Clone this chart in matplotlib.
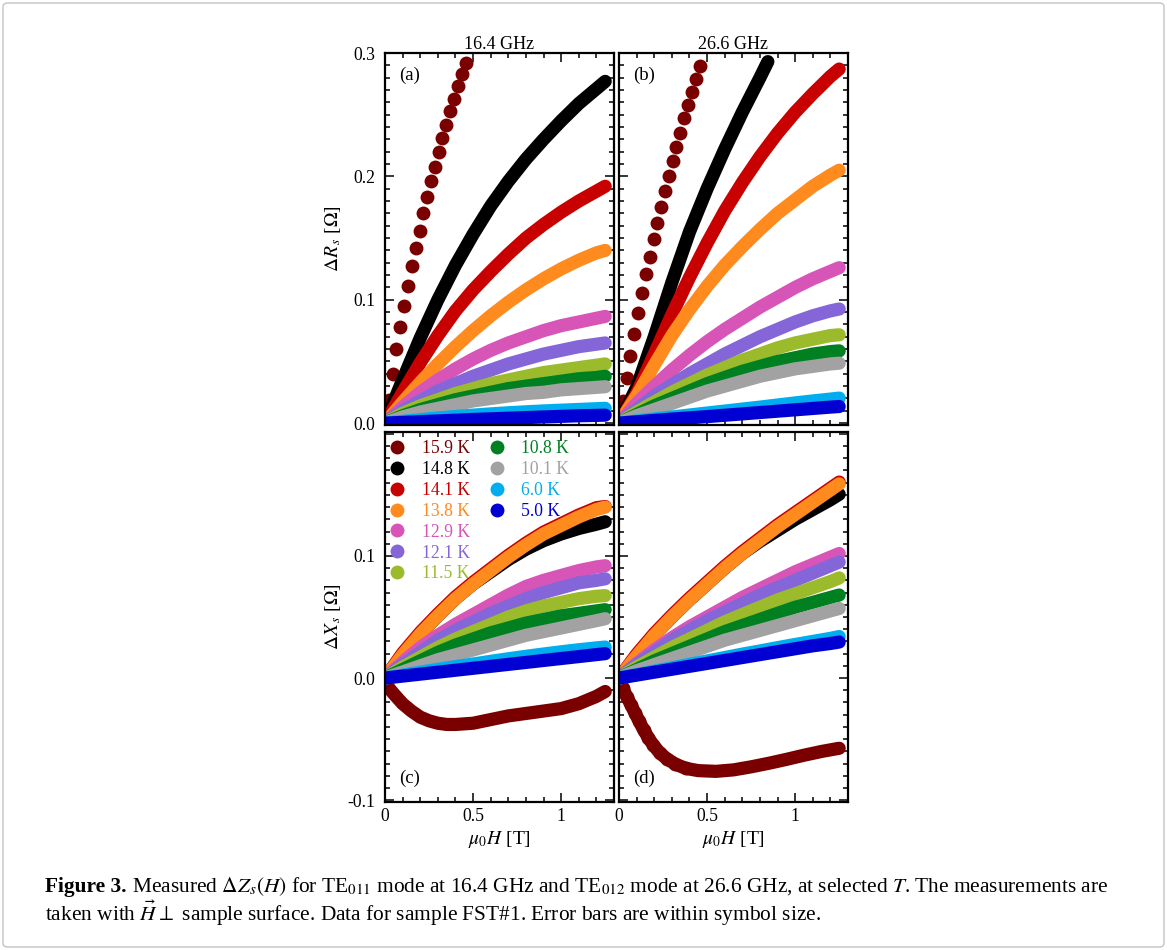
import matplotlib
matplotlib.use("Agg")
import matplotlib.pyplot as plt
from matplotlib.lines import Line2D
from matplotlib.patches import FancyBboxPatch
from matplotlib.ticker import MultipleLocator, FixedLocator

plt.rcParams["font.family"] = ["Liberation Serif", "DejaVu Serif"]
plt.rcParams["mathtext.fontset"] = "stix"

# ---- data ----
temps = ["15.9 K", "14.8 K", "14.1 K", "13.8 K", "12.9 K", "12.1 K",
         "11.5 K", "10.8 K", "10.1 K", "6.0 K", "5.0 K"]
colors = ["#7a0000", "#000000", "#c80000", "#ff8a1e", "#d855b8", "#8466d8",
          "#9cbb2c", "#008020", "#a2a2a2", "#00aeef", "#0000d2"]

field = [0.0, 0.1, 0.2, 0.3, 0.4, 0.5, 0.6, 0.7, 0.8, 0.9, 1.0, 1.1, 1.2, 1.25]

# 15.9 K, dR at low field (discrete points)
field_dots = [0.022, 0.043, 0.065, 0.087, 0.109, 0.130, 0.152, 0.174, 0.196, 0.217, 0.239,
              0.261, 0.283, 0.304, 0.326, 0.348, 0.370, 0.391, 0.413, 0.435, 0.457]
dR_159_a = [0.019, 0.040, 0.060, 0.078, 0.095, 0.111, 0.127, 0.142, 0.156, 0.170, 0.183,
            0.196, 0.208, 0.220, 0.231, 0.242, 0.253, 0.263, 0.273, 0.283, 0.292]
dR_159_b = [0.0176, 0.0365, 0.0546, 0.0725, 0.0895, 0.1055, 0.1205, 0.135, 0.149, 0.1625, 0.1755,
            0.188, 0.2005, 0.2125, 0.224, 0.2355, 0.247, 0.258, 0.2685, 0.279, 0.2895]

# 14.8 K at 26.6 GHz leaves the window early
field_148_b = [0.0, 0.1, 0.2, 0.3, 0.4, 0.5, 0.6, 0.7, 0.8, 0.845]
dR_148_b = [0.0, 0.029, 0.070, 0.114, 0.155, 0.190, 0.222, 0.252, 0.280, 0.293]

# 15.9 K, dX
field_159_c = [0.01, 0.05, 0.1, 0.15, 0.2, 0.25, 0.3, 0.35, 0.4, 0.5, 0.6, 0.7,
               0.8, 0.9, 1.0, 1.1, 1.2, 1.25]
dX_159_c = [-0.006, -0.013, -0.021, -0.027, -0.032, -0.035, -0.037, -0.038, -0.038, -0.037,
            -0.034, -0.031, -0.029, -0.027, -0.025, -0.021, -0.015, -0.011]
field_159_d = [0.02, 0.045, 0.068, 0.092, 0.115, 0.14, 0.167, 0.195, 0.23, 0.27, 0.32,
               0.38, 0.45, 0.55, 0.65, 0.75, 0.85, 0.95, 1.05, 1.15, 1.25]
dX_159_d = [-0.008, -0.0155, -0.022, -0.029, -0.0355, -0.0425, -0.049, -0.055, -0.061, -0.066,
            -0.0705, -0.074, -0.0758, -0.0764, -0.0752, -0.0727, -0.0698, -0.0666, -0.0632,
            -0.0601, -0.0575]

# 14.8 K ... 5.0 K on the common field grid
dR_a = [
    [0, 0.035, 0.069, 0.100, 0.128, 0.153, 0.176, 0.196, 0.214, 0.230, 0.245, 0.259, 0.271, 0.277],
    [0, 0.025, 0.049, 0.071, 0.091, 0.108, 0.123, 0.137, 0.150, 0.161, 0.171, 0.180, 0.188, 0.192],
    [0, 0.017, 0.033, 0.048, 0.062, 0.075, 0.087, 0.098, 0.108, 0.117, 0.125, 0.132, 0.138, 0.140],
    [0, 0.013, 0.025, 0.035, 0.044, 0.052, 0.059, 0.065, 0.070, 0.075, 0.079, 0.082, 0.085, 0.0865],
    [0, 0.010, 0.018, 0.026, 0.032, 0.038, 0.043, 0.048, 0.052, 0.056, 0.059, 0.062, 0.064, 0.065],
    [0, 0.008, 0.014, 0.019, 0.024, 0.028, 0.032, 0.035, 0.038, 0.041, 0.043, 0.045, 0.047, 0.048],
    [0, 0.006, 0.011, 0.015, 0.019, 0.022, 0.025, 0.028, 0.030, 0.032, 0.034, 0.036, 0.037, 0.038],
    [0, 0.005, 0.009, 0.012, 0.015, 0.018, 0.020, 0.022, 0.024, 0.025, 0.027, 0.028, 0.029, 0.0295],
    [0, 0.0014, 0.0028, 0.0042, 0.0054, 0.0065, 0.0075, 0.0084, 0.0092, 0.0099, 0.0105, 0.0111, 0.0117, 0.012],
    [0, 0.0006, 0.0012, 0.0018, 0.0024, 0.003, 0.0035, 0.004, 0.0045, 0.005, 0.0055, 0.006, 0.0063, 0.0065],
]
dR_b = [
    None,
    [0, 0.024, 0.056, 0.088, 0.118, 0.146, 0.172, 0.195, 0.216, 0.235, 0.252, 0.267, 0.281, 0.287],
    [0, 0.022, 0.047, 0.071, 0.092, 0.111, 0.128, 0.143, 0.157, 0.170, 0.181, 0.192, 0.201, 0.205],
    [0, 0.016, 0.030, 0.043, 0.055, 0.066, 0.076, 0.085, 0.094, 0.102, 0.110, 0.117, 0.123, 0.126],
    [0, 0.011, 0.022, 0.031, 0.040, 0.048, 0.056, 0.063, 0.070, 0.076, 0.082, 0.087, 0.091, 0.0925],
    [0, 0.009, 0.017, 0.025, 0.032, 0.039, 0.045, 0.051, 0.056, 0.061, 0.065, 0.068, 0.071, 0.0716],
    [0, 0.007, 0.014, 0.020, 0.026, 0.032, 0.037, 0.042, 0.046, 0.050, 0.053, 0.056, 0.058, 0.0586],
    [0, 0.006, 0.011, 0.016, 0.021, 0.026, 0.030, 0.034, 0.038, 0.041, 0.044, 0.046, 0.048, 0.0486],
    [0, 0.0017, 0.0034, 0.005, 0.0066, 0.0082, 0.0098, 0.0114, 0.013, 0.0147, 0.0164, 0.018, 0.0195, 0.0203],
    [0, 0.0011, 0.0022, 0.0033, 0.0043, 0.0053, 0.0064, 0.0075, 0.0086, 0.0097, 0.0108, 0.0119, 0.013, 0.0135],
]
dX_c = [
    [0, 0.019, 0.036, 0.051, 0.065, 0.077, 0.087, 0.097, 0.1055, 0.1125, 0.118, 0.1225, 0.126, 0.128],
    [0, 0.0205, 0.0375, 0.0525, 0.0665, 0.0785, 0.0895, 0.1005, 0.1105, 0.1195, 0.1265, 0.1335, 0.1395, 0.1405],
    [0, 0.019, 0.036, 0.051, 0.065, 0.077, 0.088, 0.099, 0.109, 0.118, 0.125, 0.132, 0.138, 0.140],
    [0, 0.013, 0.025, 0.035, 0.044, 0.052, 0.060, 0.068, 0.075, 0.080, 0.084, 0.088, 0.091, 0.092],
    [0, 0.011, 0.021, 0.031, 0.039, 0.046, 0.053, 0.059, 0.065, 0.070, 0.074, 0.078, 0.080, 0.0813],
    [0, 0.009, 0.017, 0.025, 0.032, 0.038, 0.044, 0.050, 0.055, 0.059, 0.062, 0.065, 0.067, 0.0675],
    [0, 0.007, 0.014, 0.021, 0.027, 0.032, 0.037, 0.041, 0.045, 0.048, 0.051, 0.053, 0.055, 0.056],
    [0, 0.005, 0.010, 0.015, 0.019, 0.023, 0.027, 0.031, 0.035, 0.038, 0.041, 0.044, 0.047, 0.0486],
    [0, 0.0024, 0.0048, 0.0071, 0.0094, 0.0115, 0.0137, 0.0158, 0.0178, 0.0197, 0.0215, 0.0232, 0.0247, 0.0254],
    [0, 0.0016, 0.0032, 0.0048, 0.0064, 0.008, 0.0096, 0.0112, 0.0128, 0.0144, 0.016, 0.0176, 0.0192, 0.020],
]
dX_d = [
    [0, 0.018, 0.035, 0.050, 0.064, 0.077, 0.090, 0.102, 0.112, 0.121, 0.130, 0.138, 0.146, 0.1505],
    [0, 0.0195, 0.0365, 0.0515, 0.0655, 0.0785, 0.0915, 0.1035, 0.1145, 0.1255, 0.1355, 0.1455, 0.1555, 0.1605],
    [0, 0.018, 0.035, 0.050, 0.064, 0.077, 0.090, 0.102, 0.113, 0.124, 0.134, 0.144, 0.154, 0.159],
    [0, 0.012, 0.023, 0.033, 0.042, 0.050, 0.058, 0.066, 0.073, 0.080, 0.087, 0.093, 0.099, 0.102],
    [0, 0.011, 0.021, 0.031, 0.039, 0.047, 0.054, 0.061, 0.068, 0.074, 0.080, 0.086, 0.092, 0.095],
    [0, 0.009, 0.017, 0.025, 0.032, 0.039, 0.046, 0.052, 0.058, 0.064, 0.069, 0.074, 0.079, 0.082],
    [0, 0.007, 0.014, 0.020, 0.026, 0.032, 0.038, 0.043, 0.048, 0.053, 0.058, 0.062, 0.066, 0.068],
    [0, 0.006, 0.011, 0.016, 0.021, 0.026, 0.031, 0.035, 0.039, 0.043, 0.047, 0.051, 0.055, 0.057],
    [0, 0.0028, 0.0056, 0.0084, 0.0112, 0.014, 0.0168, 0.0196, 0.0222, 0.0249, 0.0275, 0.030, 0.0325, 0.034],
    [0, 0.0024, 0.0048, 0.0072, 0.0096, 0.012, 0.0144, 0.0168, 0.0192, 0.0216, 0.024, 0.0264, 0.0283, 0.0295],
]

# ---- figure ----
W, HP = 1167, 950
fig = plt.figure(figsize=(W / 100, HP / 100), dpi=100)


def box(x0, y0, x1, y1):
    return [x0 / W, 1 - y1 / HP, (x1 - x0) / W, (y1 - y0) / HP]


ax_a = fig.add_axes(box(385, 53, 614, 425))
ax_b = fig.add_axes(box(619, 53, 848, 425))
ax_c = fig.add_axes(box(385, 432, 614, 802))
ax_d = fig.add_axes(box(619, 432, 848, 802))

LW = 9.5
MS = 10.0
FS = 12.7


def band(ax, x, y, c):
    ax.plot(x, y, color=c, lw=LW, solid_capstyle="round", solid_joinstyle="round")


def dots(ax, x, y, c):
    ax.plot(x, y, ls="none", color=c, marker="o", ms=MS, mec="none")


# (a)
dots(ax_a, field_dots, dR_159_a, colors[0])
for i in range(10):
    band(ax_a, field, dR_a[i], colors[i + 1])
# (b)
dots(ax_b, field_dots, dR_159_b, colors[0])
band(ax_b, field_148_b, dR_148_b, colors[1])
for i in range(1, 10):
    band(ax_b, field, dR_b[i], colors[i + 1])
# (c)
band(ax_c, field_159_c, dX_159_c, colors[0])
for i in range(10):
    band(ax_c, field, dX_c[i], colors[i + 1])
# (d)
band(ax_d, field_159_d, dX_159_d, colors[0])
dots(ax_d, field_159_d[:12], dX_159_d[:12], colors[0])
for i in range(10):
    band(ax_d, field, dX_d[i], colors[i + 1])


def style(ax, lower, left):
    ax.set_xlim(0, 1.3)
    if lower:
        ax.set_ylim(-0.1015, 0.2015)
        ax.yaxis.set_major_locator(FixedLocator([-0.1, 0.0, 0.1, 0.2]))
    else:
        ax.set_ylim(-0.0015, 0.3)
        ax.yaxis.set_major_locator(FixedLocator([0.0, 0.1, 0.2, 0.3]))
    ax.yaxis.set_minor_locator(MultipleLocator(0.01))
    ax.xaxis.set_major_locator(FixedLocator([0, 0.5, 1.0]))
    ax.xaxis.set_minor_locator(MultipleLocator(0.1))
    ax.tick_params(which="both", direction="in", top=True, right=True, width=1.1,
                   labelsize=FS, color="black")
    ax.tick_params(which="major", length=6.5)
    ax.tick_params(which="minor", length=3.5)
    ax.tick_params(axis="y", pad=7)
    ax.tick_params(axis="x", pad=4.5)
    for s in ax.spines.values():
        s.set_linewidth(1.6)
    if lower:
        ax.set_xticklabels(["0", "0.5", "1"])
        ax.set_xlabel(r"$\mu_{0}H$ [T]", fontsize=14)
        ax.xaxis.set_label_coords(0.5, -0.072)
    else:
        ax.set_xticklabels([])
    if left:
        if lower:
            ax.set_yticklabels(["-0.1", "0.0", "0.1", ""])
        else:
            ax.set_yticklabels(["0.0", "0.1", "0.2", "0.3"])
    else:
        ax.set_yticklabels([])


style(ax_a, False, True)
style(ax_b, False, False)
style(ax_c, True, True)
style(ax_d, True, False)

ax_a.set_title("16.4 GHz", fontsize=FS + 0.3, pad=2)
ax_b.set_title("26.6 GHz", fontsize=FS + 0.3, pad=2)

ax_a.set_ylabel(r"$\mathit{\Delta R}_{\,s}$ [$\Omega$]", fontsize=14)
ax_a.yaxis.set_label_coords(-0.183, 0.5)
ax_c.set_ylabel(r"$\mathit{\Delta X}_{\,s}$ [$\Omega$]", fontsize=14)
ax_c.yaxis.set_label_coords(-0.183, 0.5)

for ax, lab, y in [(ax_a, "(a)", 0.94), (ax_b, "(b)", 0.94),
                   (ax_c, "(c)", 0.065), (ax_d, "(d)", 0.065)]:
    ax.text(0.06, y, lab, transform=ax.transAxes, fontsize=13.5, va="center", ha="left")

# legend: 7 rows per column, padded with blanks
handles = [Line2D([], [], ls="none", marker="o", ms=MS, mec="none", color=c) for c in colors]
labels = list(temps)
for _ in range(3):
    handles.append(Line2D([], [], ls="none"))
    labels.append("")
leg = ax_c.legend(handles, labels, ncol=2, loc="upper left", bbox_to_anchor=(0.015, 0.978),
                  frameon=False, fontsize=FS, borderpad=0, borderaxespad=0,
                  handlelength=1.0, handletextpad=0.9, columnspacing=1.0,
                  labelspacing=0.22)
for t, c in zip(leg.get_texts(), colors + ["k"] * 3):
    t.set_color(c)

# caption
fig.canvas.draw()
r = fig.canvas.get_renderer()
cap_fs = 15.4
x0 = 45 / W
t1 = fig.text(x0, 1 - 887 / HP, "Figure 3.", fontsize=cap_fs, fontweight="bold", va="center")
bb = t1.get_window_extent(r)
rest1 = (r" Measured $\Delta Z_{s}(H)$ for TE$_{011}$ mode at 16.4 GHz and TE$_{012}$ mode at "
         r"26.6 GHz, at selected $T$. The measurements are")
fig.text(bb.x1 / W, 1 - 887 / HP, rest1, fontsize=cap_fs, va="center")
fig.text(x0, 1 - 913 / HP,
         r"taken with $\vec{H}\perp$ sample surface. Data for sample FST#1. Error bars are within symbol size.",
         fontsize=cap_fs, va="center")

frame = FancyBboxPatch((3 / W, 3 / HP), 1 - 6 / W, 1 - 6 / HP, transform=fig.transFigure,
                       boxstyle="round,pad=0,rounding_size=0.004", fc="none", ec="#c4c4c4", lw=1.0)
fig.patches.append(frame)

fig.savefig("out.png", dpi=100)
